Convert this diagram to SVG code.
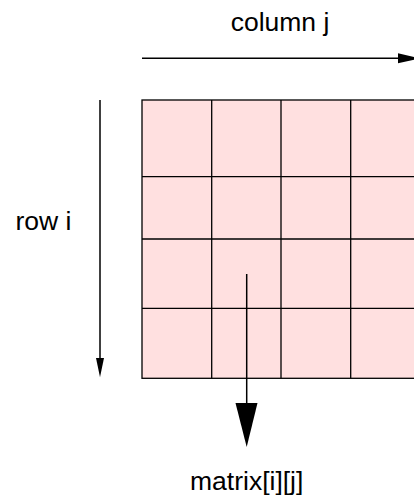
<svg xmlns="http://www.w3.org/2000/svg" width="414" height="499" viewBox="0 0 414 499">
<style>
text{font-family:"Liberation Sans",Arial,sans-serif;font-size:26.5px;fill:#000}
.grid{stroke:#000;stroke-width:1.3;fill:none}
.conn{stroke:#000;stroke-width:1.5;fill:none}
.head{fill:#000;stroke:none}
</style>
<rect width="414" height="499" fill="#fff"/>
<g id="matrix">
<rect x="142" y="100" width="278" height="278.3" fill="#ffe0e0"/>
<path class="grid" d="M211.7 100V378.3M281 100V378.3M350.7 100V378.3M142 176.7H420M142 239H420M142 308.3H420"/>
<rect class="grid" x="142" y="100" width="278" height="278.3" stroke-width="1.8"/>
</g>
<g id="labels">
<text x="280" y="30.5" text-anchor="middle">column j</text>
<text x="43.5" y="230" text-anchor="middle">row i</text>
<text x="246.7" y="490" text-anchor="middle">matrix[i][j]</text>
</g>
<g id="connectors">
<path class="conn" d="M142 58.3H400"/>
<path class="head" d="M398 53.3L420 58.3L398 63.3Z"/>
<path class="conn" d="M100 100V360"/>
<path class="head" d="M96 358L100 377.3L104 358Z"/>
<path class="conn" d="M246.7 274V405"/>
<path class="head" d="M235.5 403L246.7 447L257.5 403Z"/>
</g>
</svg>
